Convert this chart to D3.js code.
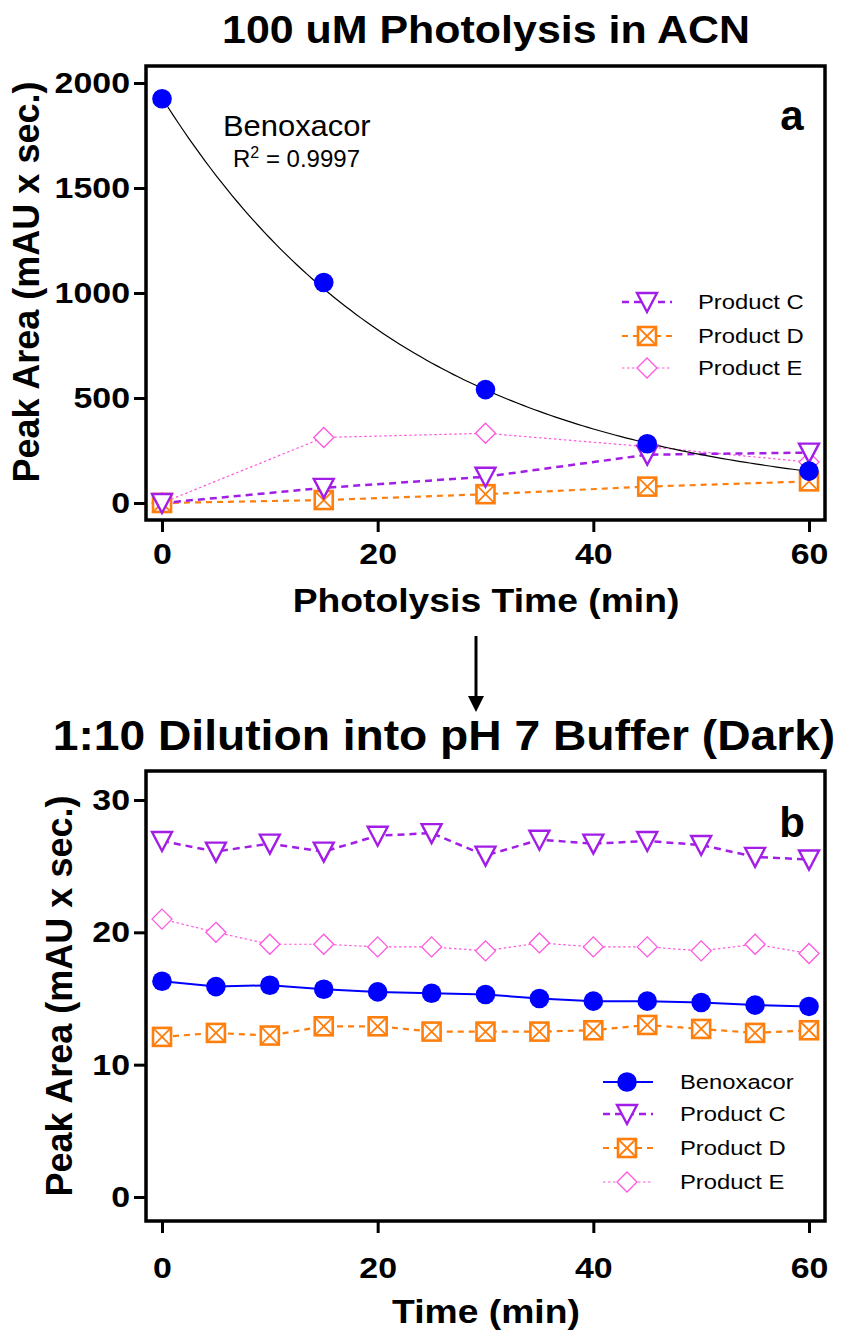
<!DOCTYPE html>
<html>
<head>
<meta charset="utf-8">
<script src="https://cdn.jsdelivr.net/npm/d3@7"></script>
<style>
  body { margin: 0; background: #fff; }
  svg { display: block; }
</style>
</head>
<body>
<svg id="chart" width="856" height="1335"></svg>
<script>
// ---- Panel a: 100 uM photolysis in acetonitrile ----
const timeA = [0, 15, 30, 45, 60];
const benoxacorA = [1925, 1050, 540, 282, 152];
const productCA = [0, 72, 125, 230, 240];
const productDA = [0, 14, 42, 78, 103];
const productEA = [0, 312, 332, 268, 195];
// first-order decay fit of benoxacor: y = fitY0 * exp(-fitK * t)
const fitY0 = 1930;
const fitK = 0.0425;
const fitR2 = "0.9997";
const yTicksA = [0, 500, 1000, 1500, 2000];
const xTicks = [0, 20, 40, 60];

// ---- Panel b: 1:10 dilution into pH 7 buffer (dark) ----
const timeB = [0, 5, 10, 15, 20, 25, 30, 35, 40, 45, 50, 55, 60];
const benoxacorB = [16.3, 15.9, 16.0, 15.7, 15.5, 15.4, 15.3, 15.0, 14.8, 14.8, 14.7, 14.5, 14.4];
const productCB = [26.9, 26.1, 26.7, 26.1, 27.3, 27.5, 25.8, 27.0, 26.7, 26.9, 26.6, 25.7, 25.5];
const productDB = [12.1, 12.4, 12.2, 12.9, 12.9, 12.5, 12.5, 12.5, 12.6, 13.0, 12.7, 12.4, 12.6];
const productEB = [21.0, 20.0, 19.1, 19.1, 18.9, 18.9, 18.6, 19.2, 18.9, 18.9, 18.6, 19.1, 18.4];
const yTicksB = [0, 10, 20, 30];

const FONT = "'Liberation Sans', Arial, Helvetica, sans-serif";
const SX = 1.13; // horizontal glyph stretch

const style = {
  ben:  { color: "#0000ff", marker: "circle",  width: 2,   dash: null },
  C:    { color: "#a21ee6", marker: "triDown", width: 2.5, dash: "7,5" },
  D:    { color: "#ff7f0e", marker: "squareX", width: 2.2, dash: "6,5" },
  E:    { color: "#ff55e0", marker: "diamond", width: 1.2, dash: "2.5,2.5" }
};

const svg = d3.select("#chart");

function txt(parent, x, y, str, size, o = {}) {
  let tr = `translate(${x},${y}) scale(${o.sx || SX},1)`;
  if (o.rotate) tr += ` rotate(${o.rotate})`;
  const g = parent.append("g").attr("transform", tr);
  const t = g.append("text")
    .attr("font-family", FONT)
    .attr("font-size", size)
    .attr("font-weight", o.bold ? "bold" : "normal")
    .attr("text-anchor", o.anchor || "start")
    .attr("dy", "0.35em")
    .attr("fill", "#000");
  t.text(str);
  return t;
}

function marker(parent, type, color, x, y) {
  const g = parent.append("g").attr("transform", `translate(${x},${y})`);
  if (type === "circle") {
    g.append("circle").attr("r", 9.8).attr("fill", color);
  } else if (type === "triDown") {
    g.append("path").attr("d", "M-10,-9L10,-9L0,10Z")
      .attr("fill", "#fff").attr("stroke", color).attr("stroke-width", 2.4)
      .attr("stroke-linejoin", "miter");
  } else if (type === "squareX") {
    g.append("rect").attr("x", -9).attr("y", -9).attr("width", 18).attr("height", 18)
      .attr("fill", "#fff").attr("stroke", color).attr("stroke-width", 2.6);
    g.append("path").attr("d", "M-9,-9L9,9M9,-9L-9,9")
      .attr("stroke", color).attr("stroke-width", 1.8);
  } else if (type === "diamond") {
    g.append("path").attr("d", "M0,-10L10,0L0,10L-10,0Z")
      .attr("fill", "#fff").attr("stroke", color).attr("stroke-width", 1.3);
  }
}

function seriesLine(parent, xs, ys, x, y, st) {
  const line = d3.line().x((d, i) => x(xs[i])).y(d => y(d));
  parent.append("path").datum(ys)
    .attr("d", line)
    .attr("fill", "none")
    .attr("stroke", st.color)
    .attr("stroke-width", st.width)
    .attr("stroke-dasharray", st.dash);
}

function seriesMarkers(parent, xs, ys, x, y, st) {
  ys.forEach((v, i) => marker(parent, st.marker, st.color, x(xs[i]), y(v)));
}

function drawAxes(frame, x, y, yTicks, xPad) {
  const gy = svg.append("g").attr("transform", `translate(${frame.left},0)`)
    .call(d3.axisLeft(y).tickValues(yTicks).tickSize(12).tickPadding(4).tickFormat(d3.format("d")));
  const gx = svg.append("g").attr("transform", `translate(0,${frame.bottom})`)
    .call(d3.axisBottom(x).tickValues(xTicks).tickSize(12).tickPadding(xPad).tickFormat(d3.format("d")));
  [gx, gy].forEach(g => {
    g.select(".domain").remove();
    g.selectAll(".tick line").attr("stroke", "#000").attr("stroke-width", 3);
    g.selectAll(".tick text")
      .attr("font-family", FONT).attr("font-size", 30).attr("font-weight", "bold")
      .attr("fill", "#000").attr("transform", `scale(${SX},1)`);
  });
  gy.selectAll(".tick text").attr("x", -16 / SX);
  svg.append("rect")
    .attr("x", frame.left).attr("y", frame.top)
    .attr("width", frame.right - frame.left).attr("height", frame.bottom - frame.top)
    .attr("fill", "none").attr("stroke", "#000").attr("stroke-width", 3.5);
}

function legend(entries, x0, x1, xm, xt, ys) {
  entries.forEach((e, i) => {
    const st = style[e.key];
    svg.append("line").attr("x1", x0).attr("x2", x1).attr("y1", ys[i]).attr("y2", ys[i])
      .attr("stroke", st.color).attr("stroke-width", st.width)
      .attr("stroke-dasharray", st.dash);
    marker(svg, st.marker, st.color, xm, ys[i]);
    txt(svg, xt, ys[i], e.name, 20.5, { sx: 1.16 });
  });
}

// ================= Panel a =================
const frameA = { left: 146, right: 825, top: 66, bottom: 520 };
const xA = d3.scaleLinear().domain([0, 60]).range([162, 809]);
const yA = d3.scaleLinear().domain([0, 2000]).range([503, 83]);

txt(svg, 486, 30, "100 uM Photolysis in ACN", 38, { bold: true, anchor: "middle" });
drawAxes(frameA, xA, yA, yTicksA, 11);

const plotA = svg.append("g");
seriesLine(plotA, timeA, productEA, xA, yA, style.E);
seriesLine(plotA, timeA, productDA, xA, yA, style.D);
seriesLine(plotA, timeA, productCA, xA, yA, style.C);
// fitted decay curve
const fitT = d3.range(0, 60.01, 0.5);
plotA.append("path").datum(fitT)
  .attr("d", d3.line().x(t => xA(t)).y(t => yA(fitY0 * Math.exp(-fitK * t))))
  .attr("fill", "none").attr("stroke", "#000").attr("stroke-width", 1.2);
seriesMarkers(plotA, timeA, productEA, xA, yA, style.E);
seriesMarkers(plotA, timeA, productDA, xA, yA, style.D);
seriesMarkers(plotA, timeA, productCA, xA, yA, style.C);
seriesMarkers(plotA, timeA, benoxacorA, xA, yA, style.ben);

txt(svg, 223, 125, "Benoxacor", 30, { sx: 1.03 });
const r2 = txt(svg, 233, 159, "", 24, { sx: 1.0 });
r2.append("tspan").text("R");
r2.append("tspan").attr("font-size", 16).attr("dy", "-0.6em").text("2");
r2.append("tspan").attr("dy", "0.4em").text(" = " + fitR2);
txt(svg, 792, 115, "a", 42, { bold: true, anchor: "middle", sx: 1.0 });

legend([{ key: "C", name: "Product C" }, { key: "D", name: "Product D" }, { key: "E", name: "Product E" }],
  622, 672, 647, 698, [302, 336, 368]);

txt(svg, 486, 600, "Photolysis Time (min)", 33, { bold: true, anchor: "middle" });
txt(svg, 26, 282, "Peak Area (mAU x sec.)", 36, { bold: true, anchor: "middle", rotate: -90, sx: 1.0 });

// arrow between panels
svg.append("line").attr("x1", 476).attr("x2", 476).attr("y1", 636).attr("y2", 698)
  .attr("stroke", "#000").attr("stroke-width", 3);
svg.append("path").attr("d", "M468,696L484,696L476,712Z").attr("fill", "#000");

// ================= Panel b =================
const frameB = { left: 146, right: 825, top: 771, bottom: 1221 };
const xB = d3.scaleLinear().domain([0, 60]).range([162, 809]);
const yB = d3.scaleLinear().domain([0, 30]).range([1197, 800]);

txt(svg, 444, 735, "1:10 Dilution into pH 7 Buffer (Dark)", 42, { bold: true, anchor: "middle", sx: 1.10 });
drawAxes(frameB, xB, yB, yTicksB, 24);

const plotB = svg.append("g");
seriesLine(plotB, timeB, productEB, xB, yB, style.E);
seriesLine(plotB, timeB, productDB, xB, yB, style.D);
seriesLine(plotB, timeB, productCB, xB, yB, style.C);
seriesLine(plotB, timeB, benoxacorB, xB, yB, style.ben);
seriesMarkers(plotB, timeB, productEB, xB, yB, style.E);
seriesMarkers(plotB, timeB, productDB, xB, yB, style.D);
seriesMarkers(plotB, timeB, productCB, xB, yB, style.C);
seriesMarkers(plotB, timeB, benoxacorB, xB, yB, style.ben);

txt(svg, 792, 822, "b", 42, { bold: true, anchor: "middle", sx: 1.0 });

legend([{ key: "ben", name: "Benoxacor" }, { key: "C", name: "Product C" },
        { key: "D", name: "Product D" }, { key: "E", name: "Product E" }],
  603, 653, 627, 680, [1082, 1114, 1148, 1182]);

txt(svg, 486, 1311, "Time (min)", 33, { bold: true, anchor: "middle" });
txt(svg, 59, 996, "Peak Area (mAU x sec.)", 36, { bold: true, anchor: "middle", rotate: -90, sx: 1.0 });
</script>
</body>
</html>
